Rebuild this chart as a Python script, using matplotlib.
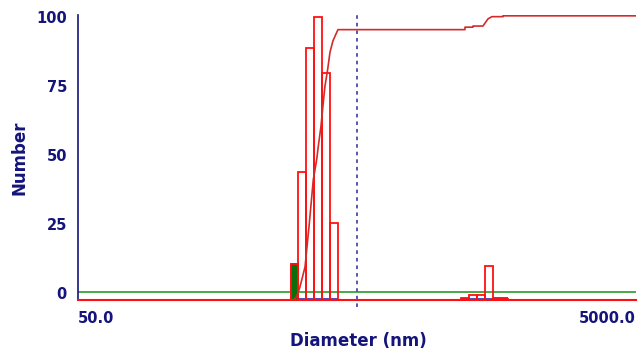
import matplotlib
matplotlib.use("Agg")
import matplotlib.pyplot as plt
import numpy as np

plt.rcParams['font.family'] = ['DejaVu Sans']

# histogram bins (diameter edges in nm) and bar tops (Number)
main_edges = [290, 307, 328, 351, 375, 400, 428]
main_counts = [10.5, 44.0, 88.7, 100.0, 79.6, 25.5]
small_edges = [1180, 1260, 1346, 1438, 1536, 1641, 1739]
small_counts = [-1.7, -0.7, -0.7, 9.9, -2.3, -2.3]

# cumulative curve
cum_d = [234, 295.6, 304.0, 312.4, 325.6, 336.5, 348.6, 358.6, 363.3, 371.5, 378.6,
         383.9, 392.6, 400.2, 410.2, 422.9, 427.4, 1219, 1219, 1302, 1302, 1414,
         1474, 1523, 1669, 1669, 5000]
cum_v = [-2.5, -2.5, -1.3, 2.3, 9.5, 24.1, 41.1, 48.4, 53.2, 60.5, 69.1,
         75.0, 81.1, 87.3, 91.4, 94.4, 95.4, 95.4, 96.3, 96.3, 96.7, 96.7,
         99.3, 100.1, 100.1, 100.4, 100.4]

# second (blue) distribution, almost flat at the bottom
blue_left = [298, 1180, 1536]
blue_right = [428, 1536, 1739]
blue_vals = [-2.2, -2.2, -1.9]

yticks = [0, 25, 50, 75, 100]
xticks = [50, 5000]
xticklabels = ['50.0', '5000.0']
ymin, ymax = -2.5, 100.7
navy = '#14147a'
red = '#ff1010'

fig = plt.figure(figsize=(6.38, 3.51), dpi=100)
ax = fig.add_axes([78/638, 1 - 300/351, 558/638, 285/351])
ax.set_xscale('log')
ax.set_xlim(50, 5000)
ax.set_ylim(ymin, ymax)

# zero line
ax.axhline(0.4, color='#2a9a2a', lw=1.2, zorder=1)

def draw_bars(edges, tops, **kw):
    lefts = np.array(edges[:-1])
    widths = np.diff(edges)
    ax.bar(lefts, np.array(tops) - ymin, width=widths, bottom=ymin, align='edge', **kw)

draw_bars(main_edges, main_counts, fill=False, edgecolor=red, lw=1.3, zorder=3)
draw_bars(small_edges, small_counts, fill=False, edgecolor=red, lw=1.3, zorder=3)
# first bin is filled green
ax.bar(main_edges[0], main_counts[0] - ymin, width=main_edges[1] - main_edges[0],
       bottom=ymin, align='edge', color='#0b6e0b', edgecolor=red, lw=1.3, zorder=4)

ax.hlines(blue_vals, blue_left, blue_right, color='#3030c0', lw=1.2, zorder=2)

ax.plot(cum_d, cum_v, color='#d42a2a', lw=1.2, zorder=5)

# dotted marker line
ax.plot([500, 500], [-5.1, ymax], color='#4a4aa8', lw=1.3, ls=(0, (2, 2.2)),
        clip_on=False, zorder=2)

for s in ['top', 'right']:
    ax.spines[s].set_visible(False)
ax.spines['left'].set_color(navy)
ax.spines['left'].set_linewidth(1.2)
ax.spines['bottom'].set_color(red)
ax.spines['bottom'].set_linewidth(1.5)

ax.set_yticks(yticks)
ax.set_yticklabels([str(v) for v in yticks])
ax.set_xticks(xticks)
ax.set_xticklabels(xticklabels)
ax.xaxis.set_minor_locator(matplotlib.ticker.NullLocator())
ax.tick_params(axis='both', length=0, labelcolor=navy, labelsize=10.5)
ax.tick_params(axis='y', pad=8)
ax.tick_params(axis='x', pad=8)
for lab in ax.get_yticklabels() + ax.get_xticklabels():
    lab.set_fontweight('bold')
xl = ax.get_xticklabels()
xl[0].set_ha('left')
xl[1].set_ha('right')

fig.text(20/638, 1 - 158/351, 'Number', rotation=90, ha='center', va='center',
         color=navy, fontsize=12, fontweight='bold')
fig.text(358/638, 1 - 341/351, 'Diameter (nm)', ha='center', va='center',
         color=navy, fontsize=12, fontweight='bold')

fig.savefig('out.png', dpi=100)
